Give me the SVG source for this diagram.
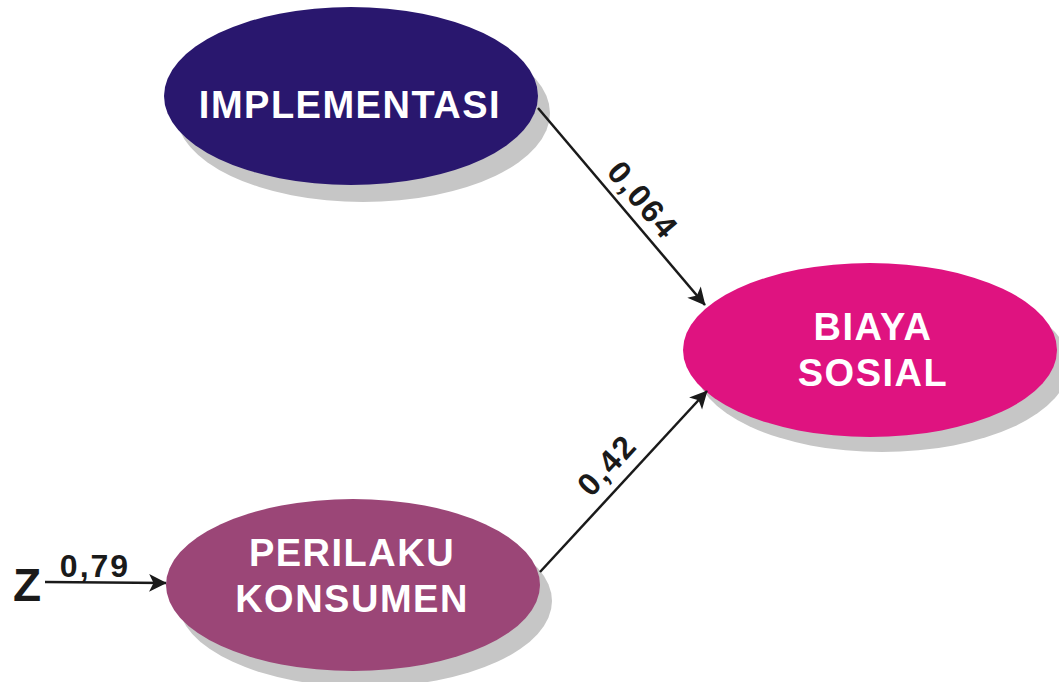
<svg xmlns="http://www.w3.org/2000/svg" width="1059" height="682" viewBox="0 0 1059 682">
<style>
.shadow{fill:#c6c6c6}
.lbl{font-family:"Liberation Sans",Arial,sans-serif;font-weight:bold;fill:#fff;font-size:38px;letter-spacing:1.5px;text-anchor:middle}
.coef{font-family:"Liberation Sans",Arial,sans-serif;font-weight:bold;fill:#1a1a1a;font-size:32px;text-anchor:middle;letter-spacing:2px}
.conn{stroke:#1a1a1a;stroke-width:2.5;fill:none;marker-end:url(#ah)}
</style>
<defs>
<marker id="ah" viewBox="0 0 10 10" refX="9" refY="5" markerWidth="8" markerHeight="8" markerUnits="userSpaceOnUse" orient="auto" overflow="visible">
<path d="M0,0 L10,5 L0,10 L2.5,5 z" fill="#1a1a1a" transform="scale(2.2) translate(-5.5,-2.7)"/>
</marker>
</defs>
<rect width="1059" height="682" fill="#fff"/>
<g id="implementasi">
<ellipse class="shadow" cx="363" cy="113" rx="187" ry="89"/>
<ellipse cx="351" cy="96" rx="187" ry="89" fill="#29176e"/>
<text class="lbl" x="350" y="118">IMPLEMENTASI</text>
</g>
<g id="biaya-sosial">
<ellipse class="shadow" cx="882" cy="365" rx="187" ry="87"/>
<ellipse cx="870" cy="350" rx="187" ry="87" fill="#df1380"/>
<text class="lbl" x="873" y="340">BIAYA</text>
<text class="lbl" x="873" y="386">SOSIAL</text>
</g>
<g id="perilaku-konsumen">
<ellipse class="shadow" cx="365" cy="601" rx="187" ry="86"/>
<ellipse cx="353" cy="585" rx="187" ry="86" fill="#9b4677"/>
<text class="lbl" x="352" y="566">PERILAKU</text>
<text class="lbl" x="352" y="612">KONSUMEN</text>
</g>
<g id="z">
<text x="27" y="601" font-family="'Liberation Sans',Arial,sans-serif" font-weight="bold" font-size="46" fill="#1a1a1a" text-anchor="middle">Z</text>
</g>
<g id="connectors">
<line class="conn" x1="538" y1="108" x2="705" y2="305"/>
<line class="conn" x1="540" y1="572" x2="707" y2="391"/>
<line class="conn" x1="45" y1="582" x2="166" y2="583"/>
<text class="coef" transform="translate(643,200) rotate(49.8)" y="11">0,064</text>
<text class="coef" transform="translate(607,465) rotate(-47.3)" y="11">0,42</text>
<text class="coef" x="95" y="577">0,79</text>
</g>
</svg>
